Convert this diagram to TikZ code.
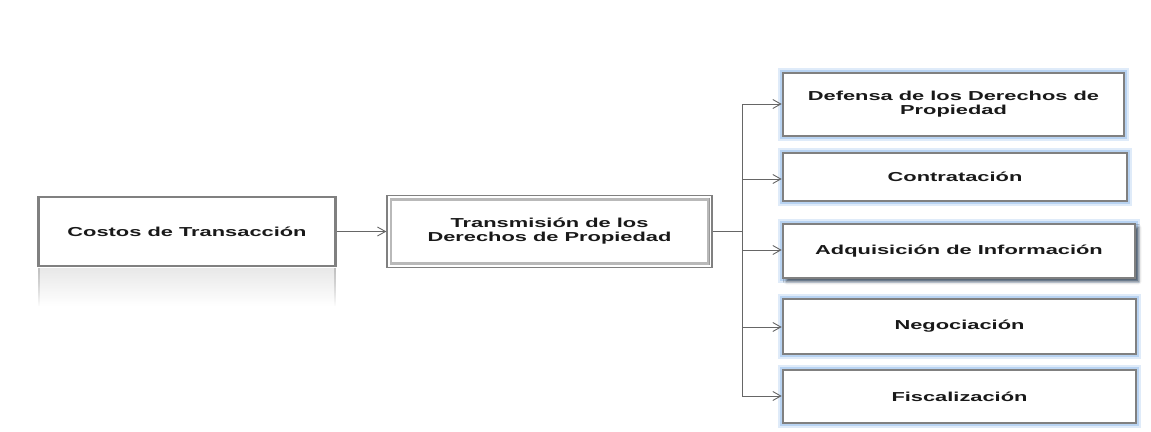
\documentclass[tikz,border=0pt]{standalone}
\usepackage{fontspec}
\setmainfont{Liberation Sans}
\newfontfamily\lblfont[FakeStretch=1.68]{Liberation Sans Bold}
\usetikzlibrary{arrows.meta,fadings,shadows.blur}
\definecolor{bordergray}{HTML}{808080}
\definecolor{glowblue}{HTML}{B8D3F2}
\begin{document}
\begin{tikzpicture}[x=1pt,y=1pt,
  lbl/.style={font=\lblfont\fontsize{13}{14}\selectfont, text=black!90, align=center},
  box/.style={lbl, draw=bordergray, line width=2.6pt, fill=white, inner sep=0pt},
  rbox/.style={box, minimum width=343pt, minimum height=49pt,
     preaction={draw=glowblue!45, line width=10pt},
     preaction={draw=glowblue, line width=6pt}},
  arr/.style={draw=black!60, line width=0.9pt, -{Straight Barb[length=8pt,width=9pt,line width=0.9pt]}},
  conn/.style={draw=black!60, line width=0.9pt}]
\useasboundingbox (0,0) rectangle (1151,-431);
% reflection under first box
\fill[gray!18, path fading=south] (38,-268) rectangle (336,-306);
\draw[gray!50, line width=2pt, path fading=south] (39,-268) -- (39,-306);
\draw[gray!50, line width=2pt, path fading=south] (335,-268) -- (335,-306);
% first box
\node[box, minimum width=297pt, minimum height=69pt] (c) at (187,-231.5) {Costos de Transacción};
% second box
\node[lbl, draw=bordergray, line width=1.3pt, fill=white, minimum width=325pt, minimum height=72pt, inner sep=0pt] (t) at (549.5,-231.5) {Transmisión de los\\Derechos de Propiedad};
\draw[gray!55, line width=2.6pt] ([shift={(4.5,-4.5)}]t.north west) rectangle ([shift={(-4.5,4.5)}]t.south east);
\draw[gray!80, line width=1pt] ([shift={(-3,-3)}]t.north east) -- ([shift={(-3,3)}]t.south east);
% right boxes
\node[rbox, minimum width=341pt, minimum height=63pt] (d1) at (953.5,-104.5) {Defensa de los Derechos de\\Propiedad};
\node[rbox, minimum width=344pt, minimum height=48pt] (d2) at (955,-177) {Contratación};
\node[rbox, minimum width=352pt, minimum height=54pt, blur shadow={shadow xshift=3.5pt, shadow yshift=-3.5pt, shadow blur radius=3pt, shadow opacity=60}] (d3) at (959,-251) {Adquisición de Información};
\node[rbox, minimum width=353pt, minimum height=55pt] (d4) at (959.5,-326.5) {Negociación};
\node[rbox, minimum width=353pt, minimum height=53pt] (d5) at (959.5,-396.5) {Fiscalización};
% connectors
\draw[arr] (c.east) -- (t.west);
\coordinate (b1) at (742,-104);
\coordinate (b2) at (742,-179);
\coordinate (b3) at (742,-250);
\coordinate (b4) at (742,-327);
\coordinate (b5) at (742,-396);
\draw[conn] (t.east) -- (t.east -| b1);
\draw[conn] (b1) -- (b5);
\draw[arr] (b1) -- (b1 -| d1.west);
\draw[arr] (b2) -- (b2 -| d2.west);
\draw[arr] (b3) -- (b3 -| d3.west);
\draw[arr] (b4) -- (b4 -| d4.west);
\draw[arr] (b5) -- (b5 -| d5.west);
\end{tikzpicture}
\end{document}
